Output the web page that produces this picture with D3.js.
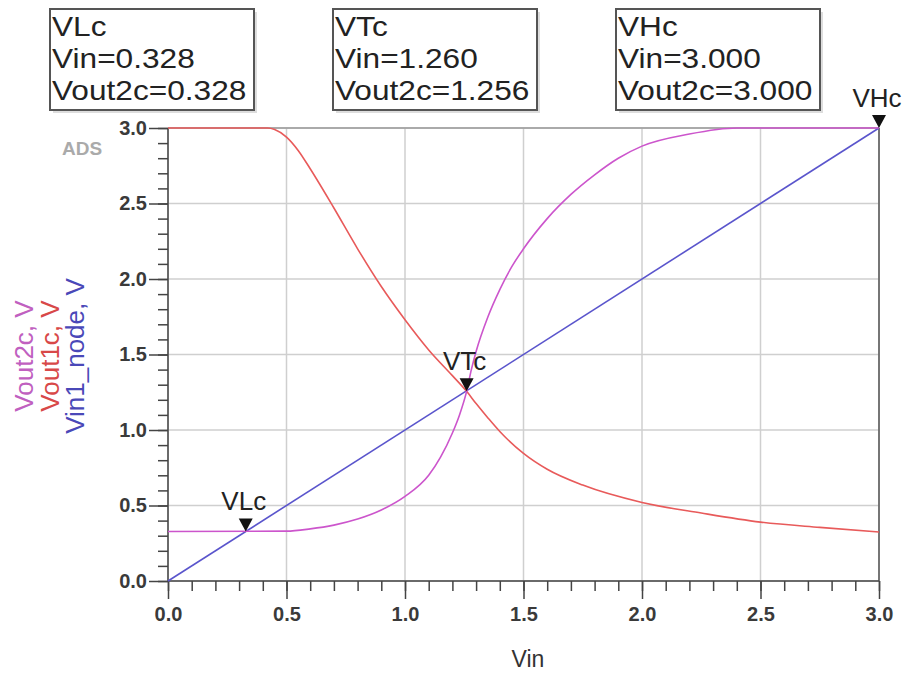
<!DOCTYPE html>
<html>
<head>
<meta charset="utf-8">
<script src="https://cdn.jsdelivr.net/npm/d3@7"></script>
<style>
  body { margin: 0; background: #fff; }
  svg { display: block; font-family: "Liberation Sans", Arial, sans-serif; }
</style>
</head>
<body>
<div id="chart"></div>
<script>
  // sweep values (Vin) and the three traces
  var vin1 = [0, 0.42, 0.45, 0.5, 0.55, 0.6, 0.7, 0.8, 0.9, 1.0, 1.1, 1.2, 1.26, 1.3, 1.35, 1.4, 1.5, 1.6, 1.75, 2.0, 2.25, 2.5, 2.75, 3.0];
  var vout1c = [3.0, 3.0, 2.99, 2.94, 2.85, 2.73, 2.47, 2.2, 1.95, 1.73, 1.53, 1.36, 1.256, 1.175, 1.08, 0.99, 0.845, 0.74, 0.635, 0.52, 0.45, 0.39, 0.355, 0.325];

  var vin2 = [0, 0.5, 0.6, 0.7, 0.8, 0.9, 1.0, 1.1, 1.15, 1.2, 1.23, 1.26, 1.28, 1.3, 1.35, 1.4, 1.45, 1.5, 1.6, 1.7, 1.8, 1.9, 2.0, 2.2, 2.4, 3.0];
  var vout2c = [0.328, 0.33, 0.345, 0.37, 0.41, 0.47, 0.56, 0.7, 0.82, 0.98, 1.1, 1.256, 1.4, 1.52, 1.75, 1.93, 2.08, 2.2, 2.4, 2.56, 2.69, 2.8, 2.88, 2.96, 3.0, 3.0];

  var vin3 = [0, 3.0];
  var vin1Node = [0, 3.0];

  var xTicks = [0, 0.5, 1.0, 1.5, 2.0, 2.5, 3.0];
  var yTicks = [0, 0.5, 1.0, 1.5, 2.0, 2.5, 3.0];

  var markerNames = ["VLc", "VTc", "VHc"];
  var markerVin = [0.328, 1.260, 3.000];
  var markerVout = [0.328, 1.256, 3.000];

  var width = 914, height = 679;
  var margin = { top: 128, right: 35, bottom: 98, left: 168 };
  var w = width - margin.left - margin.right,
      h = height - margin.top - margin.bottom;

  var svg = d3.select("#chart").append("svg")
    .attr("width", width)
    .attr("height", height);

  var x = d3.scaleLinear().domain([0, 3]).range([0, w]);
  var y = d3.scaleLinear().domain([0, 3]).range([h, 0]);

  var g = svg.append("g")
    .attr("transform", "translate(" + margin.left + "," + margin.top + ")");

  // grid
  g.append("g").selectAll("line").data(xTicks).enter().append("line")
    .attr("x1", function(d) { return x(d); })
    .attr("x2", function(d) { return x(d); })
    .attr("y1", 0).attr("y2", h)
    .style("stroke", "#cfcfcf").style("stroke-width", 1.5);
  g.append("g").selectAll("line").data(yTicks).enter().append("line")
    .attr("y1", function(d) { return y(d); })
    .attr("y2", function(d) { return y(d); })
    .attr("x1", 0).attr("x2", w)
    .style("stroke", "#cfcfcf").style("stroke-width", 1.5);

  // frame: top gray, right dark
  g.append("line").attr("x1", 0).attr("x2", w).attr("y1", 0).attr("y2", 0)
    .style("stroke", "#9a9a9a").style("stroke-width", 1.5);
  g.append("line").attr("x1", w).attr("x2", w).attr("y1", 0).attr("y2", h)
    .style("stroke", "#555").style("stroke-width", 1.5);

  // axes with minor ticks
  var minor = d3.range(0, 3.001, 0.1).map(function(d) { return Math.round(d * 10) / 10; });

  var xAxis = g.append("g").attr("class", "axis")
    .attr("transform", "translate(0," + h + ")");
  xAxis.call(d3.axisBottom(x).tickValues(minor).tickSize(10).tickFormat(""));
  xAxis.call(function(s) {
    s.append("g").call(d3.axisBottom(x).tickValues(xTicks).tickSize(18).tickPadding(8)
      .tickFormat(d3.format(".1f")));
  });

  var yAxis = g.append("g").attr("class", "axis");
  yAxis.call(d3.axisLeft(y).tickValues(minor).tickSize(10).tickFormat(""));
  yAxis.call(function(s) {
    s.append("g").call(d3.axisLeft(y).tickValues(yTicks).tickSize(19).tickPadding(2)
      .tickFormat(d3.format(".1f")));
  });

  svg.selectAll(".axis path, .axis line")
    .style("stroke", "#444").style("stroke-width", 1.5);
  svg.selectAll(".axis .domain").attr("d", null);
  g.append("line").attr("x1", 0).attr("x2", w).attr("y1", h).attr("y2", h)
    .style("stroke", "#444").style("stroke-width", 1.5);
  g.append("line").attr("x1", 0).attr("x2", 0).attr("y1", 0).attr("y2", h)
    .style("stroke", "#444").style("stroke-width", 1.5);
  svg.selectAll(".axis text")
    .style("font-size", "20px").style("font-weight", "bold").style("fill", "#3a3a3a")
    .style("font-family", "'Liberation Sans', Arial, sans-serif");

  // traces
  var line = d3.line()
    .x(function(d) { return x(d[0]); })
    .y(function(d) { return y(d[1]); })
    .curve(d3.curveMonotoneX);

  g.append("path").datum(d3.zip(vin3, vin1Node))
    .attr("d", line).style("fill", "none")
    .style("stroke", "#5a55cc").style("stroke-width", 1.6);
  g.append("path").datum(d3.zip(vin1, vout1c))
    .attr("d", line).style("fill", "none")
    .style("stroke", "#e85a5a").style("stroke-width", 1.6);
  g.append("path").datum(d3.zip(vin2, vout2c))
    .attr("d", line).style("fill", "none")
    .style("stroke", "#cc55cc").style("stroke-width", 1.6);

  // markers
  var markers = d3.zip(markerNames, markerVin, markerVout);
  var mk = g.append("g").selectAll("g").data(markers).enter().append("g")
    .attr("transform", function(d) { return "translate(" + x(d[1]) + "," + y(d[2]) + ")"; });
  mk.append("path").attr("d", "M0,0 L-7,-13 L7,-13 Z").style("fill", "#111");
  mk.append("text").attr("x", -2).attr("y", -21)
    .attr("text-anchor", "middle")
    .style("font-size", "26px").style("fill", "#222")
    .text(function(d) { return d[0]; });

  // readout boxes
  var boxX = [50, 333, 616];
  markers.forEach(function(d, i) {
    var b = svg.append("g").attr("transform", "translate(" + boxX[i] + ",9)");
    b.append("rect").attr("x", 3).attr("y", 3).attr("width", 204).attr("height", 101)
      .style("fill", "#ddd");
    b.append("rect").attr("width", 204).attr("height", 101)
      .style("fill", "#fff").style("stroke", "#555").style("stroke-width", 2);
    var lines = [d[0], "Vin=" + d[1].toFixed(3), "Vout2c=" + d[2].toFixed(3)];
    b.append("g").attr("transform", "translate(2,0) scale(1.13,1)")
      .selectAll("text").data(lines).enter().append("text")
      .attr("x", 0)
      .attr("y", function(t, j) { return 27 + j * 32; })
      .style("font-size", "28px").style("fill", "#222")
      .text(function(t) { return t; });
  });

  // ADS watermark
  svg.append("text").attr("x", 62).attr("y", 155)
    .style("font-size", "19px").style("font-weight", "bold").style("fill", "#aaa")
    .text("ADS");

  // axis titles
  svg.append("text").attr("x", 528).attr("y", 667)
    .attr("text-anchor", "middle")
    .style("font-size", "23px").style("fill", "#333")
    .text("Vin");

  var yTitles = [["Vout2c, V", "#c060c0"], ["Vout1c, V", "#d84848"], ["Vin1_node, V", "#4a48b8"]];
  var yt = svg.append("text")
    .attr("transform", "translate(33,356) rotate(-90)")
    .attr("text-anchor", "middle")
    .style("font-size", "26px");
  yTitles.forEach(function(t, i) {
    yt.append("tspan").attr("x", 0).attr("y", i * 25.5)
      .style("fill", t[1]).text(t[0]);
  });
</script>
</body>
</html>
